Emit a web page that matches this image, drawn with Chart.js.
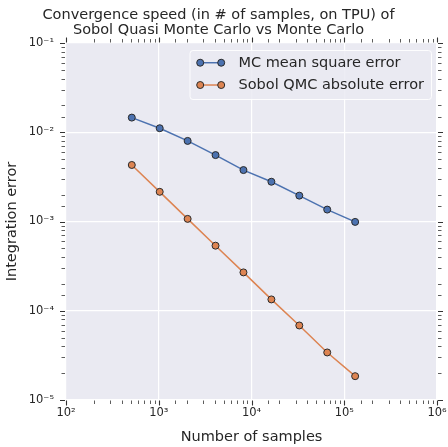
<!DOCTYPE html>
<html>
<head>
<meta charset="utf-8">
<script src="https://cdn.jsdelivr.net/npm/chart.js@4.4.1/dist/chart.umd.min.js"></script>
<style>
  html, body { margin:0; padding:0; background:#fff; }
  #wrap { width:448px; height:447px; }
</style>
</head>
<body>
<div id="wrap"><canvas id="conv-chart" width="448" height="447"></canvas></div>
<script>
// data
const SAMPLES   = [512, 1024, 2048, 4096, 8192, 16384, 32768, 65536, 131072];
const MC_ERR    = [0.0146, 0.0111, 0.0080, 0.00555, 0.00377, 0.00279, 0.00195, 0.00136, 0.00099];
const QMC_ERR   = [0.0043, 0.00215, 0.00107, 0.000536, 0.000269, 0.000134, 0.0000684, 0.0000341, 0.0000185];
const SERIES    = ['MC mean square error', 'Sobol QMC absolute error'];
const COLORS    = ['#4C72B0', '#DD8452'];
const X_RANGE   = [1e2, 1e6];
const Y_RANGE   = [1e-5, 1e-1];
const TITLE     = ['Convergence speed (in # of samples, on TPU) of', 'Sobol Quasi Monte Carlo vs Monte Carlo'];
const X_TITLE   = 'Number of samples';
const Y_TITLE   = 'Integration error';

const TEXT = '#262626';
const FONT = 'DejaVu Sans';
const SUP  = {'-':'⁻','0':'⁰','1':'¹','2':'²','3':'³','4':'⁴','5':'⁵','6':'⁶','7':'⁷','8':'⁸','9':'⁹'};

function isMajor(v) {
  const e = Math.log10(v);
  return Math.abs(e - Math.round(e)) < 1e-6;
}
function powLabel(v) {
  if (!isMajor(v)) return '';
  return '10' + String(Math.round(Math.log10(v))).split('').map(c => SUP[c]).join('');
}

// grey panel behind the data
const panelBg = {
  id: 'panelBg',
  beforeDraw(chart) {
    const {ctx, chartArea: a} = chart;
    ctx.save();
    ctx.fillStyle = '#EAEAF2';
    ctx.fillRect(a.left, a.top, a.right - a.left, a.bottom - a.top);
    ctx.restore();
  }
};

// outward tick marks on all four sides, long for decades, short for the rest
const tickMarks = {
  id: 'tickMarks',
  afterDraw(chart) {
    const {ctx, chartArea: a, scales} = chart;
    ctx.save();
    ctx.strokeStyle = '#333';
    scales.x.ticks.forEach(t => {
      const px = Math.round(scales.x.getPixelForValue(t.value)) + 0.5;
      const len = isMajor(t.value) ? 5 : 3.5;
      ctx.lineWidth = isMajor(t.value) ? 1.1 : 0.8;
      ctx.beginPath();
      ctx.moveTo(px, a.bottom + 0.5); ctx.lineTo(px, a.bottom + 0.5 + len);
      ctx.moveTo(px, a.top - 0.5);    ctx.lineTo(px, a.top - 0.5 - len);
      ctx.stroke();
    });
    scales.y.ticks.forEach(t => {
      const py = Math.round(scales.y.getPixelForValue(t.value)) + 0.5;
      const len = isMajor(t.value) ? 5 : 3.5;
      ctx.lineWidth = isMajor(t.value) ? 1.1 : 0.8;
      ctx.beginPath();
      ctx.moveTo(a.left - 1, py);  ctx.lineTo(a.left - 1 - len, py);
      ctx.moveTo(a.right + 1, py); ctx.lineTo(a.right + 1 + len, py);
      ctx.stroke();
    });
    ctx.restore();
  }
};

// matplotlib-like legend box in the upper right of the panel
const legendBox = {
  id: 'legendBox',
  afterDatasetsDraw(chart) {
    const {ctx, chartArea: a} = chart;
    const ds = chart.data.datasets;
    ctx.save();
    ctx.font = `14.5px "${FONT}"`;
    const textW = Math.max(...ds.map(d => ctx.measureText(d.label).width));
    const w = 7 + 28 + 14 + textW + 7;
    const h = 49;
    const x0 = a.right - 6 - w;
    const y0 = a.top + 7;
    ctx.beginPath();
    ctx.roundRect(x0 + 0.5, y0 + 0.5, w, h, 3);
    ctx.fillStyle = 'rgba(234,234,242,0.85)';
    ctx.fill();
    ctx.strokeStyle = 'rgba(255,255,255,0.9)';
    ctx.lineWidth = 1;
    ctx.stroke();
    ds.forEach((d, i) => {
      const cy = y0 + 12.7 + i * 22.3;
      const mx1 = x0 + 10.7, mx2 = x0 + 31.7;
      ctx.strokeStyle = d.borderColor;
      ctx.lineWidth = 1.5;
      ctx.beginPath(); ctx.moveTo(mx1, cy); ctx.lineTo(mx2, cy); ctx.stroke();
      [mx1, mx2].forEach(mx => {
        ctx.beginPath();
        ctx.arc(mx, cy, 3.5, 0, Math.PI * 2);
        ctx.fillStyle = d.pointBackgroundColor;
        ctx.fill();
        ctx.strokeStyle = d.pointBorderColor;
        ctx.lineWidth = 1;
        ctx.stroke();
      });
      ctx.fillStyle = TEXT;
      ctx.textBaseline = 'middle';
      ctx.fillText(d.label, x0 + 49, cy + 0.5);
    });
    ctx.restore();
  }
};

function makeSet(label, values, color) {
  return {
    label,
    data: SAMPLES.map((s, i) => ({x: s, y: values[i]})),
    borderColor: color,
    backgroundColor: color,
    borderWidth: 1.5,
    pointRadius: 3.5,
    pointBackgroundColor: color,
    pointBorderColor: '#2a2a2a',
    pointBorderWidth: 1,
    tension: 0
  };
}

const gridColor = c => isMajor(c.tick.value) ? '#ffffff' : 'rgba(0,0,0,0)';

new Chart(document.getElementById('conv-chart').getContext('2d'), {
  type: 'line',
  data: {
    datasets: [
      makeSet(SERIES[0], MC_ERR, COLORS[0]),
      makeSet(SERIES[1], QMC_ERR, COLORS[1])
    ]
  },
  options: {
    responsive: false,
    animation: false,
    devicePixelRatio: 1,
    layout: {padding: {left: 0, right: 11, top: 0, bottom: 0}},
    plugins: {
      legend: {display: false},
      tooltip: {enabled: false},
      title: {
        display: true,
        text: TITLE,
        color: TEXT,
        font: {family: FONT, size: 14.5, weight: 'normal', lineHeight: 1.08},
        padding: {top: 7, bottom: 4.7}
      }
    },
    scales: {
      x: {
        type: 'logarithmic',
        min: X_RANGE[0], max: X_RANGE[1],
        afterFit: s => { s.height = 47; s.paddingLeft = 0; s.paddingRight = 0; },
        grid: {color: gridColor, lineWidth: 1.2, drawTicks: false},
        border: {display: false},
        ticks: {
          autoSkip: false, maxRotation: 0, padding: 6,
          color: TEXT, font: {family: FONT, size: 11.5},
          callback: v => powLabel(v)
        },
        title: {display: true, text: X_TITLE, color: TEXT,
                font: {family: FONT, size: 14.5}, padding: {top: 0, bottom: 1}}
      },
      y: {
        type: 'logarithmic',
        min: Y_RANGE[0], max: Y_RANGE[1],
        afterFit: s => { s.width = 66; s.paddingTop = 0; s.paddingBottom = 0; },
        grid: {color: gridColor, lineWidth: 1.2, drawTicks: false},
        border: {display: false},
        ticks: {
          autoSkip: false, padding: 12,
          color: TEXT, font: {family: FONT, size: 11.5},
          callback: v => powLabel(v)
        },
        title: {display: true, text: Y_TITLE, color: TEXT,
                font: {family: FONT, size: 14.5}, padding: {top: 4, bottom: 0}}
      }
    }
  },
  plugins: [panelBg, tickMarks, legendBox]
});
</script>
</body>
</html>
